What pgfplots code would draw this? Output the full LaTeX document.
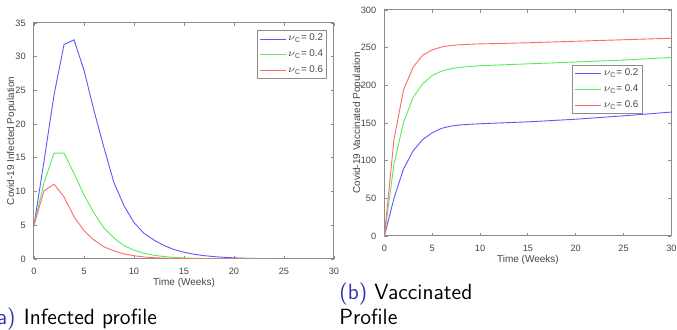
\documentclass[border=0pt]{standalone}
\usepackage{pgfplots}
\pgfplotsset{compat=1.18}
\usepackage{fontspec}
\setmainfont{Liberation Sans}
\definecolor{mblue}{RGB}{90,90,255}
\definecolor{mgreen}{RGB}{90,235,90}
\definecolor{mred}{RGB}{255,105,105}
\definecolor{capblue}{RGB}{51,51,178}
\definecolor{axgray}{RGB}{140,140,140}
\definecolor{tickgray}{RGB}{70,70,70}
\pgfplotsset{
  legend image code/.code={\draw[#1] (0pt,0pt) -- (13pt,0pt);},
  mstyle/.style={
    scale only axis,
    anchor=south west,
    axis line style={axgray, line width=0.5pt},
    tick style={axgray, line width=0.4pt},
    tick align=inside,
    major tick length=1.6pt,
    xmin=0, xmax=30,
    xtick={0,5,...,30},
    ticklabel style={font=\fontsize{4.6}{5.5}\selectfont, text=tickgray},
    xticklabel style={yshift=-1.0pt},
    yticklabel style={xshift=-0.6pt},
    label style={font=\fontsize{5}{6}\selectfont, text=tickgray},
    /pgf/number format/assume math mode=true,
    xlabel={Time (Weeks)},
    xlabel style={at={(axis description cs:0.5,0)}, anchor=center, yshift=-12pt},
    legend cell align=left,
    legend style={font=\fontsize{4.9}{5.9}\selectfont, draw=axgray, fill=white, inner sep=1pt, row sep=1.3pt, nodes={inner sep=0.8pt}},
    every axis plot/.append style={line width=0.45pt},
  }
}
\newcommand{\nuc}[1]{\textcolor{tickgray}{$\nu_{\mathrm{C}}$= #1}}
\begin{document}
\begin{tikzpicture}
\useasboundingbox (0,0) rectangle (338.5pt,165pt);
\clip (0,0) rectangle (338.5pt,165pt);
\begin{axis}[mstyle,
  at={(17pt,35.5pt)}, width=150pt, height=118pt,
  ymin=0, ymax=35, ytick={0,5,...,35},
  ylabel={Covid-19 Infected Population},
  ylabel style={at={(axis description cs:0,0.5)}, anchor=center, yshift=11.2pt},
  legend style={at={(rel axis cs:0.977,0.970)}, anchor=north east},
]
\addplot[color=mblue] coordinates {(0,5)(1,14.5)(2,24.3)(3,31.8)(4,32.5)(5,28.0)(6,22.0)(7,16.5)(8,11.3)(9,7.9)(10,5.4)(11,3.8)(12,2.8)(13,2.0)(14,1.4)(15,1.0)(16,0.7)(17,0.5)(18,0.35)(19,0.25)(20,0.17)(21,0.12)(22,0.08)(23,0.06)(24,0.04)(25,0.03)(26,0.02)(27,0.015)(28,0.01)(29,0.007)(30,0.005)};
\addlegendentry{\nuc{0.2}}
\addplot[color=mgreen] coordinates {(0,5)(1,11.3)(2,15.7)(3,15.7)(4,12.7)(5,9.5)(6,6.8)(7,4.6)(8,3.1)(9,2.0)(10,1.3)(11,0.85)(12,0.55)(13,0.36)(14,0.24)(15,0.16)(16,0.1)(17,0.07)(18,0.05)(19,0.03)(20,0.02)(21,0.014)(22,0.01)(23,0.007)(24,0.005)(25,0.003)(26,0.002)(27,0.0015)(28,0.001)(29,0.001)(30,0.001)};
\addlegendentry{\nuc{0.4}}
\addplot[color=mred] coordinates {(0,5)(1,10.1)(2,11.1)(3,9.2)(4,6.3)(5,4.2)(6,2.8)(7,1.8)(8,1.2)(9,0.75)(10,0.48)(11,0.3)(12,0.19)(13,0.12)(14,0.08)(15,0.05)(16,0.03)(17,0.02)(18,0.013)(19,0.009)(20,0.006)(21,0.004)(22,0.003)(23,0.002)(24,0.001)(25,0.001)(26,0.001)(27,0.001)(28,0.001)(29,0.001)(30,0.001)};
\addlegendentry{\nuc{0.6}}
\end{axis}
\begin{axis}[mstyle,
  at={(192.2pt,47pt)}, width=143.5pt, height=113pt,
  ymin=0, ymax=300, ytick={0,50,...,300},
  ylabel={Covid-19 Vaccinated Population},
  ylabel style={at={(axis description cs:0,0.5)}, anchor=center, yshift=13.4pt},
  legend style={at={(rel axis cs:0.899,0.757)}, anchor=north east},
]
\addplot[color=mblue] coordinates {(0,0)(1,50)(2,89)(3,113)(4,128)(5,137)(6,143)(7,146)(8,147.5)(9,148.3)(10,149)(12,150)(15,151.5)(20,155)(25,159.5)(30,164.5)};
\addlegendentry{\nuc{0.2}}
\addplot[color=mgreen] coordinates {(0,0)(1,95)(2,151)(3,184)(4,202)(5,213)(6,219)(7,222)(8,224)(9,225)(10,226)(12,227)(15,228.5)(20,231)(25,233.5)(30,237)};
\addlegendentry{\nuc{0.4}}
\addplot[color=mred] coordinates {(0,0)(1,128)(2,194)(3,224)(4,240)(5,247)(6,251)(7,253)(8,254)(9,254.5)(10,255)(12,255.5)(15,256.5)(20,258.5)(25,260.5)(30,262.5)};
\addlegendentry{\nuc{0.6}}
\end{axis}
\node[anchor=base east, inner sep=0pt, font=\sffamily\fontsize{11}{13}\selectfont, text=capblue] at (8pt,2.5pt) {(a)};
\node[anchor=base west, inner sep=0pt, font=\sffamily\fontsize{11}{13}\selectfont] at (11.8pt,2.5pt) {Infected profile};
\node[anchor=base west, inner sep=0pt, font=\sffamily\fontsize{11}{13}\selectfont] at (169.5pt,15pt) {\textcolor{capblue}{(b)} Vaccinated};
\node[anchor=base west, inner sep=0pt, font=\sffamily\fontsize{11}{13}\selectfont] at (169.5pt,2.5pt) {Profile};
\end{tikzpicture}
\end{document}
